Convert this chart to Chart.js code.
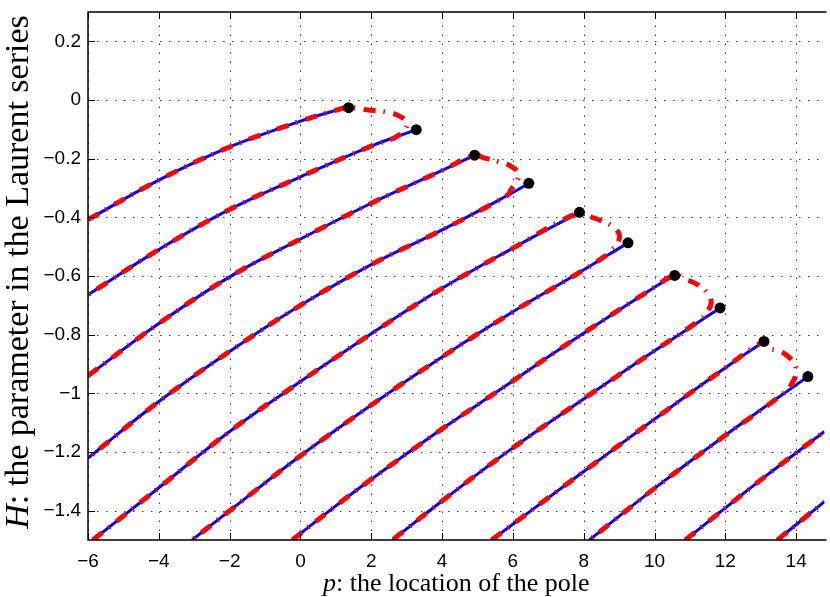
<!DOCTYPE html>
<html>
<head>
<meta charset="utf-8">
<script src="https://cdn.jsdelivr.net/npm/chart.js@4"></script>
<style>
  body { margin: 0; background: #fff; }
  canvas { display: block; }
</style>
</head>
<body>
<canvas id="poles" width="830" height="597"></canvas>
<script>
const xTicks = [-6, -4, -2, 0, 2, 4, 6, 8, 10, 12, 14];
const yTicks = [-1.4, -1.2, -1, -0.8, -0.6, -0.4, -0.2, 0, 0.2];

// blue curves, each ends at a black dot (except the last two)
const curve1 = [[-6, -0.408], [-4, -0.273], [-2, -0.160], [0, -0.072], [0.92, -0.038], [1.36, -0.026]];
const curve2 = [[-6, -0.664], [-4, -0.510], [-2, -0.373], [0, -0.262], [2, -0.157], [3.27, -0.101]];
const curve3 = [[-6, -0.94], [-4, -0.762], [-2, -0.603], [0, -0.474], [2, -0.352], [4, -0.24], [4.92, -0.188]];
const curve4 = [[-6, -1.221], [-4, -1.028], [-2, -0.857], [0, -0.70], [2, -0.561], [4, -0.443], [5.96, -0.318], [6.45, -0.284]];
const curve5 = [[-5.86, -1.5], [-4, -1.322], [-2, -1.13], [0, -0.96], [2, -0.797], [4, -0.642], [6, -0.505], [7.88, -0.383]];
const curve6 = [[-3.06, -1.5], [-2, -1.40], [0, -1.213], [2, -1.04], [4, -0.876], [6, -0.722], [7.78, -0.595], [9.25, -0.487]];
const curve7 = [[-0.23, -1.5], [0.78, -1.404], [2, -1.293], [4, -1.121], [5.63, -0.988], [7.78, -0.812], [10, -0.638], [10.57, -0.598]];
const curve8 = [[2.6, -1.5], [4, -1.367], [6, -1.186], [7.78, -1.037], [10, -0.855], [11.85, -0.709]];
const curve9 = [[5.4, -1.5], [7.78, -1.286], [10, -1.088], [12, -0.913], [13.09, -0.823]];
const curve10 = [[8.16, -1.5], [10, -1.324], [12, -1.143], [14.33, -0.943]];
const curve11 = [[10.87, -1.5], [13, -1.295], [14.8, -1.13]];
const curve12 = [[13.47, -1.5], [14.8, -1.369]];

// red dashed loops joining the upper dot to the next curve
const arc1 = [[1.9, -0.034], [2.4, -0.040], [2.8, -0.055], [3.0, -0.078], [2.95, -0.10], [2.75, -0.122], [2.6, -0.132]];
const arc2 = [[5.2, -0.198], [5.6, -0.210], [5.95, -0.226], [6.15, -0.25], [6.1, -0.28], [5.95, -0.305], [5.85, -0.324]];
const arc3 = [[8.2, -0.398], [8.5, -0.412], [8.8, -0.43], [9.0, -0.458], [8.95, -0.49], [8.75, -0.515], [8.57, -0.535]];
const arc4 = [[10.9, -0.612], [11.25, -0.632], [11.5, -0.66], [11.6, -0.69], [11.5, -0.72], [11.3, -0.748]];
const arc5 = [[13.2, -0.845], [13.5, -0.855], [13.75, -0.872], [13.95, -0.9], [14.0, -0.93], [13.9, -0.962], [13.7, -0.995]];

const blueCurves = [curve1, curve2, curve3, curve4, curve5, curve6, curve7, curve8, curve9, curve10, curve11, curve12];
const dotted = blueCurves.slice(0, 10).map(c => c[c.length - 1]);

function pts(list) {
    return list.map(p => ({ x: p[0], y: p[1] }));
}

function loop(upper, arc, lower) {
    const end = arc[arc.length - 1][0];
    const back = lower.filter(p => p[0] < end).reverse();
    return upper.concat(arc, back);
}

const redPaths = [
    loop(curve1, arc1, curve2),
    loop(curve3, arc2, curve4),
    loop(curve5, arc3, curve6),
    loop(curve7, arc4, curve8),
    loop(curve9, arc5, curve10),
    curve11,
    curve12
];

const datasets = [];
blueCurves.forEach(c => datasets.push({
    data: pts(c), showLine: true, borderColor: '#0000ff', borderWidth: 3,
    pointRadius: 0, tension: 0.4, order: 3
}));
redPaths.forEach(c => datasets.push({
    data: pts(c), showLine: true, borderColor: '#ff0000', borderWidth: 5,
    borderDash: [12, 8, 1.5, 8.5], borderCapStyle: 'butt',
    pointRadius: 0, tension: 0.4, order: 2
}));
datasets.push({
    data: pts(dotted), showLine: false, pointRadius: 5.5,
    pointBackgroundColor: '#000', pointBorderWidth: 0, order: 1
});

const frame = {
    id: 'frame',
    beforeDatasetsDraw(chart) {
        const { ctx, chartArea: a, scales: { x, y } } = chart;
        ctx.save();
        ctx.strokeStyle = '#3a3a3a';
        ctx.lineWidth = 1;
        ctx.setLineDash([1.5, 7.5]);
        xTicks.forEach(v => {
            const px = Math.round(x.getPixelForValue(v)) + 0.5;
            ctx.beginPath(); ctx.moveTo(px, a.bottom); ctx.lineTo(px, a.top); ctx.stroke();
        });
        yTicks.forEach(v => {
            const py = Math.round(y.getPixelForValue(v)) + 0.5;
            ctx.beginPath(); ctx.moveTo(a.left, py); ctx.lineTo(a.right, py); ctx.stroke();
        });
        ctx.restore();
    },
    afterDatasetsDraw(chart) {
        const { ctx, chartArea: a, scales: { x, y } } = chart;
        ctx.save();
        ctx.strokeStyle = '#000';
        ctx.lineWidth = 1.5;
        ctx.beginPath();
        ctx.moveTo(a.right + 2, a.top);
        ctx.lineTo(a.left, a.top);
        ctx.lineTo(a.left, a.bottom);
        ctx.lineTo(a.right + 2, a.bottom);
        ctx.stroke();
        ctx.lineWidth = 1;
        xTicks.forEach(v => {
            const px = Math.round(x.getPixelForValue(v)) + 0.5;
            ctx.beginPath(); ctx.moveTo(px, a.bottom); ctx.lineTo(px, a.bottom - 7); ctx.stroke();
            ctx.beginPath(); ctx.moveTo(px, a.top); ctx.lineTo(px, a.top + 7); ctx.stroke();
        });
        yTicks.forEach(v => {
            const py = Math.round(y.getPixelForValue(v)) + 0.5;
            ctx.beginPath(); ctx.moveTo(a.left, py); ctx.lineTo(a.left + 7, py); ctx.stroke();
        });

        // axis titles, italic symbol + roman text
        ctx.fillStyle = '#000';
        ctx.textBaseline = 'alphabetic';
        const serif = '"Liberation Serif", "Times New Roman", serif';

        ctx.font = 'italic 26px ' + serif;
        const pw = ctx.measureText('p').width;
        ctx.font = '26px ' + serif;
        const restX = ': the location of the pole';
        const rw = ctx.measureText(restX).width;
        let sx = (a.left + a.right) / 2 - (pw + rw) / 2;
        ctx.font = 'italic 26px ' + serif;
        ctx.fillText('p', sx, 591);
        ctx.font = '26px ' + serif;
        ctx.fillText(restX, sx + pw, 591);

        ctx.translate(28, (a.top + a.bottom) / 2 - 4);
        ctx.rotate(-Math.PI / 2);
        ctx.font = 'italic 34px ' + serif;
        const hw = ctx.measureText('H').width;
        ctx.font = '34px ' + serif;
        const restY = ': the parameter in the Laurent series';
        const ryw = ctx.measureText(restY).width;
        sx = -(hw + ryw) / 2;
        ctx.font = 'italic 34px ' + serif;
        ctx.fillText('H', sx, 0);
        ctx.font = '34px ' + serif;
        ctx.fillText(restY, sx + hw, 0);
        ctx.restore();
    }
};

function tickText(v) {
    if (v === 0) return '0';
    return String(v).replace('-', '\u2212');
}

new Chart(document.getElementById('poles'), {
    type: 'scatter',
    data: { datasets: datasets },
    options: {
        responsive: false,
        animation: false,
        devicePixelRatio: 1,
        layout: { padding: { top: 12, left: 0, right: 0, bottom: 0 } },
        plugins: { legend: { display: false }, tooltip: { enabled: false } },
        scales: {
            x: {
                type: 'linear', min: -6, max: 14.8,
                afterFit: s => { s.height = 57; s.paddingLeft = 0; s.paddingRight = 0; },
                afterBuildTicks: s => { s.ticks = xTicks.map(v => ({ value: v })); },
                grid: { display: false, drawTicks: false },
                border: { display: false },
                ticks: {
                    autoSkip: false, maxRotation: 0, padding: 10, color: '#000',
                    font: { family: '"Liberation Sans", Arial, sans-serif', size: 19 },
                    callback: v => tickText(v)
                }
            },
            y: {
                type: 'linear', min: -1.5, max: 0.3,
                afterFit: s => { s.width = 88; s.paddingTop = 0; s.paddingBottom = 0; },
                afterBuildTicks: s => { s.ticks = yTicks.map(v => ({ value: v })); },
                grid: { display: false, drawTicks: false },
                border: { display: false },
                ticks: {
                    autoSkip: false, padding: 7, color: '#000',
                    font: { family: '"Liberation Sans", Arial, sans-serif', size: 19 },
                    callback: v => tickText(v)
                }
            }
        }
    },
    plugins: [frame]
});
</script>
</body>
</html>
